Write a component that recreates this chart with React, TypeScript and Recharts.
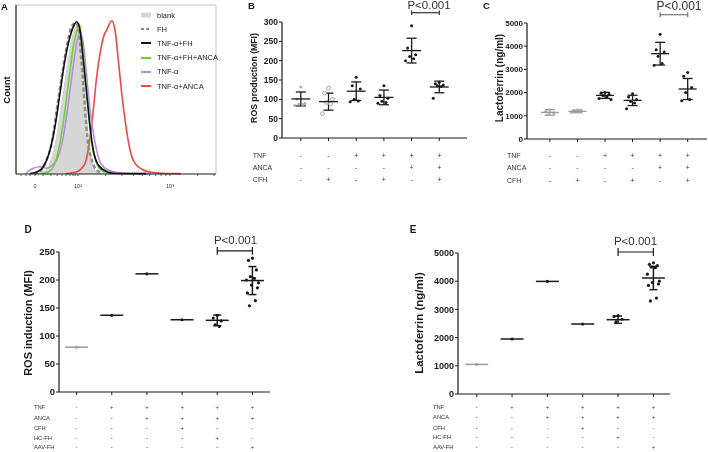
import React from 'react'
import { ComposedChart, Line, Area, XAxis, YAxis, Scatter, ErrorBar, ReferenceLine } from 'recharts'

const FONT = '"Liberation Sans", Arial, Helvetica, sans-serif'
const INK = '#1a1a1a'
const GRAY = '#9a9a9a'

// ---------- panel A: histogram curves, [channel, % of max count]
const blankCurve = [[20, 0.3], [28, 1.5], [34, 6.5], [40.7, 22], [47.3, 47.8], [52.3, 67.5], [57.3, 83.2], [62.3, 88], [65.7, 77.3], [69, 47.8], [72.3, 22], [75.7, 8.3], [80.7, 1.4], [88, 0.3]]
const fhCurve = [[18, 0.3], [24, 1.4], [27.3, 4.3], [31, 9], [35.7, 18.2], [40.7, 37.9], [45.7, 57.6], [50.7, 75.3], [55.7, 87.2], [60, 89.5], [63.3, 84], [64.7, 71.4], [66.7, 57.6], [69, 37.9], [71.3, 22], [75.7, 8.3], [80.7, 2.4], [86, 0.5]]
const tnfFhCurve = [[14, 0.3], [22, 1.5], [27.3, 4.3], [34, 14.2], [39, 28], [44, 47.8], [49, 67.5], [54, 81.2], [58, 88], [60.7, 90.1], [64, 85.2], [67.3, 67.5], [70.7, 47.8], [74, 28], [77.3, 14.2], [82.3, 5.3], [90.7, 1.4], [100, 0.3], [130, 0.2]]
const tnfFhAncaCurve = [[26, 0.3], [33, 1.5], [37.3, 4.3], [44, 18.2], [49, 37.9], [53.3, 57.6], [57.3, 75.3], [61, 85], [63.3, 88.8], [66.7, 73.4], [69, 57.6], [72.3, 37.9], [75.7, 18.2], [80.7, 6.3], [87.3, 1.4], [95, 0.3]]
const tnfCurve = [[10, 0.5], [17.3, 3.4], [24, 4.3], [30.7, 3.4], [36, 5], [40.7, 8.3], [47.3, 22], [52.3, 41.8], [56.7, 61.5], [60.7, 77.3], [64, 84.2], [67.3, 77.3], [70.7, 57.6], [74, 37.9], [78, 22], [82.3, 10.2], [89, 3.4], [100.7, 0.8], [115, 0.3], [135, 0.2]]
const tnfAncaCurve = [[50, 0.3], [60.7, 1.4], [69, 6.3], [73.3, 18.2], [77.3, 37.9], [80.7, 57.6], [84.7, 73.4], [88, 82], [90.7, 85.2], [95.7, 90.7], [99, 85.2], [102.3, 67.5], [105.7, 47.8], [110, 28], [114, 14.2], [119, 6.3], [127.3, 2.4], [137.3, 0.8], [150, 0.3], [165, 0.2]]

const aNames = ['blank', 'FH', 'TNF-α+FH', 'TNF-α+FH+ANCA', 'TNF-α', 'TNF-α+ANCA']
const aColors = ['#d6d6d6', '#8a8a8a', '#111111', '#6fd12b', '#b98ae6', '#f04848']
const aCurves = [blankCurve, fhCurve, tnfFhCurve, tnfFhAncaCurve, tnfCurve, tnfAncaCurve]
const aDrawOrder = [5, 4, 3, 1, 2]
const aTicks = [5, 10, 14, 19, 27, 35, 41, 46, 50, 54, 57, 59, 62, 89.7, 105.9, 117.4, 126.3, 133.6, 139.7, 145.1, 149.8, 154, 181.7, 197.9]
const aTickLabels: Record<number, string> = { 19: '0', 62: '10²', 154: '10³' }

// ---------- panels B-E
const cats = [1, 2, 3, 4, 5, 6]

const bMeans = [101, 94, 121, 105, 226, 132]
const bSds = [18, 22, 24, 19, 32, 15]
const bPoints = [[132, 101, 89, 88, 86, 84], [129, 116, 100, 92, 88, 63], [157, 135, 127, 100, 96, 94], [135, 110, 103, 95, 92, 90], [290, 233, 215, 211, 205, 200], [144, 140, 137, 135, 133, 103]]

const cMeans = [1147, 1190, 1880, 1664, 3677, 2155]
const cSds = [120, 60, 130, 222, 490, 453]
const cPoints = [[1260, 1190, 1120, 1050], [1250, 1230, 1210, 1190, 1170, 1150], [2000, 1970, 1930, 1880, 1830, 1750, 1700], [1950, 1810, 1700, 1620, 1550, 1300], [4520, 3850, 3750, 3570, 3250, 3180], [2870, 2700, 2220, 2000, 1700, 1650]]

const dMeans = [80, 137, 211, 129, 128, 199]
const dSds = [0, 0, 0, 0, 9.5, 25]
const dPoints = [[80], [137], [211], [129], [137, 132, 127, 120, 117], [239, 235, 218, 206, 203, 200, 195, 191, 186, 177, 163, 154]]

const eMeans = [1050, 1950, 3993, 2482, 2635, 4113]
const eSds = [0, 0, 0, 0, 130, 413]
const ePoints = [[1050], [1950], [3993], [2482], [2780, 2750, 2650, 2560], [4650, 4600, 4550, 4500, 4480, 4250, 4000, 3950, 3900, 3850, 3400, 3300]]

const topRowNames = ['TNF', 'ANCA', 'CFH']
const topRows = [
  ['-', '-', '+', '+', '+', '+'],
  ['-', '-', '-', '-', '+', '+'],
  ['-', '+', '-', '+', '-', '+'],
]
const bottomRowNames = ['TNF', 'ANCA', 'CFH', 'HC-FH', 'AAV-FH']
const bottomRows = [
  ['-', '+', '+', '+', '+', '+'],
  ['-', '-', '+', '+', '+', '+'],
  ['-', '-', '-', '+', '-', '-'],
  ['-', '-', '-', '-', '+', '-'],
  ['-', '-', '-', '-', '-', '+'],
]

const JITTER = [0, -4, 4, -2, 2, -6, 6, -1, 5, -5, 3, -3]

function Txt({ x, y, size, bold, rotate, color = INK, children }: any) {
  return (
    <div
      style={{
        position: 'absolute', left: x, top: y, fontSize: size, lineHeight: 1, whiteSpace: 'nowrap',
        fontWeight: bold ? 'bold' : 'normal', color, fontFamily: FONT, filter: 'grayscale(1)',
        transform: `translate(-50%, -50%)${rotate ? ` rotate(${rotate}deg)` : ''}`,
      }}
    >
      {children}
    </div>
  )
}

function SignRows(props: any) {
  const { x, y, payload, rows, rowNames, rowDy, font, labelDx } = props
  const i = Math.round(payload.value) - 1
  const base = y - 3
  return (
    <g fontFamily={FONT} fontSize={font}>
      {rows.map((r: string[], k: number) => (
        <text key={k} x={x} y={base + rowDy[k]} fill="#333" textAnchor="middle" dominantBaseline="central">{r[i]}</text>
      ))}
      {i === 0 && rowNames.map((n: string, k: number) => (
        <text key={'n' + k} x={x + labelDx} y={base + rowDy[k]} fill="#333" dominantBaseline="central">{n}</text>
      ))}
    </g>
  )
}

function DotPanel(p: any) {
  const pts = p.points.flatMap((vals: number[], g: number) =>
    vals.map((v, i) => ({ x: g + 1, y: v, g, i, n: vals.length })))
  const { y: by, cap, color: bc } = p.bracket
  return (
    <div style={{ position: 'absolute', left: p.left, top: p.top, filter: 'grayscale(1)' }}>
      <ComposedChart width={p.width} height={p.height} margin={p.margin}>
        <XAxis
          type="number" dataKey="x" domain={p.xDomain} ticks={cats} allowDataOverflow
          height={p.xAxisH} tickSize={3} tickMargin={0}
          axisLine={{ stroke: INK, strokeWidth: 1.2 }} tickLine={{ stroke: INK }}
          tick={(tp: any) => <SignRows {...tp} rows={p.rows} rowNames={p.rowNames} rowDy={p.rowDy} font={p.rowFont} labelDx={p.labelDx} />}
        />
        <YAxis
          type="number" dataKey="y" domain={p.yDomain} ticks={p.yTicks} width={p.yWidth} allowDataOverflow
          tickSize={3} tickMargin={1}
          axisLine={{ stroke: INK, strokeWidth: 1.2 }} tickLine={{ stroke: INK }}
          tick={{ fontSize: p.tickFont, fontWeight: 'bold', fill: INK, fontFamily: FONT }}
        />
        <Scatter
          data={pts} isAnimationActive={false}
          shape={(sp: any) => {
            const d = sp.payload
            const dx = d.n === 1 ? 0 : JITTER[d.i % JITTER.length]
            const gray = p.grayGroups.includes(d.g)
            const open = (p.openGroups || []).includes(d.g)
            return open
              ? <circle cx={sp.cx + dx} cy={sp.cy} r={p.dotR + 0.4} fill="#fff" stroke={GRAY} strokeWidth={0.9} />
              : <circle cx={sp.cx + dx} cy={sp.cy} r={p.dotR} fill={gray ? '#aaa' : INK} />
          }}
        />
        {p.means.map((m: number, g: number) => {
          const col = p.grayLines.includes(g) ? GRAY : INK
          return (
            <Scatter
              key={'m' + g} data={[{ x: g + 1, y: m, sd: p.sds[g] }]} isAnimationActive={false}
              shape={(sp: any) => (
                <line x1={sp.cx - p.meanHalf} x2={sp.cx + p.meanHalf} y1={sp.cy} y2={sp.cy} stroke={col} strokeWidth={p.lineW} />
              )}
            >
              {p.sds[g] > 0 && (
                <ErrorBar dataKey="sd" direction="y" width={p.capHalf} stroke={col} strokeWidth={p.lineW} isAnimationActive={false} />
              )}
            </Scatter>
          )
        })}
        <ReferenceLine segment={[{ x: 5, y: by }, { x: 6, y: by }]} stroke={bc} strokeWidth={1.2} ifOverflow="visible" />
        <ReferenceLine segment={[{ x: 5, y: by - cap }, { x: 5, y: by + cap }]} stroke={bc} strokeWidth={1.2} ifOverflow="visible" />
        <ReferenceLine segment={[{ x: 6, y: by - cap }, { x: 6, y: by + cap }]} stroke={bc} strokeWidth={1.2} ifOverflow="visible" />
      </ComposedChart>
    </div>
  )
}

function HistPanel() {
  const toPts = (c: number[][]) => c.map(([x, y]) => ({ x, y }))
  return (
    <div style={{ position: 'absolute', left: 0, top: 0 }}>
      <ComposedChart width={220} height={195} margin={{ top: 5, right: 4, left: 0, bottom: 0 }}>
        <XAxis
          type="number" dataKey="x" domain={[0, 200]} ticks={aTicks} allowDataOverflow height={21}
          tickSize={2} tickMargin={8} axisLine={{ stroke: INK, strokeWidth: 1.2 }} tickLine={{ stroke: '#555' }}
          tickFormatter={(v: number) => aTickLabels[v] || ''}
          tick={{ fontSize: 5.5, fill: '#333', fontFamily: FONT }} interval={0}
        />
        <YAxis type="number" domain={[0, 100]} width={16} tick={false} tickLine={false} axisLine={{ stroke: INK, strokeWidth: 1.2 }} />
        <ReferenceLine y={100} stroke="#c4c4c4" />
        <ReferenceLine x={200} stroke="#c4c4c4" />
        <Area
          data={toPts(aCurves[0])} dataKey="y" type="monotone" fill={aColors[0]} fillOpacity={1}
          stroke="#cdcdcd" strokeWidth={1} isAnimationActive={false}
        />
        {aDrawOrder.map((k) => (
          <Line
            key={aNames[k]} data={toPts(aCurves[k])} dataKey="y" type="monotone" dot={false}
            stroke={aColors[k]} strokeWidth={k === 1 ? 2.4 : 1.6} strokeDasharray={k === 1 ? '4 2.5' : undefined}
            isAnimationActive={false}
          />
        ))}
      </ComposedChart>
      <div style={{ position: 'absolute', left: 141, top: 8, fontFamily: FONT, fontSize: 7.5, color: '#222' }}>
        {aNames.map((n, k) => (
          <div key={n} style={{ height: 14.2, display: 'flex', alignItems: 'center' }}>
            <svg width={15} height={8} style={{ marginRight: 1 }}>
              {k === 0 && <rect x={0} y={1.5} width={10} height={5} fill={aColors[0]} />}
              {k === 1 && <line x1={0} x2={10} y1={4} y2={4} stroke={aColors[1]} strokeWidth={2} strokeDasharray="3 2" />}
              {k > 1 && <line x1={0} x2={10} y1={4} y2={4} stroke={aColors[k]} strokeWidth={2} />}
            </svg>
            <span style={{ filter: 'grayscale(1)' }}>{n}</span>
          </div>
        ))}
      </div>
    </div>
  )
}

export default function App() {
  return (
    <div style={{ position: 'absolute', left: 0, top: 0, width: 708, height: 452, overflow: 'hidden', fontFamily: FONT, willChange: 'transform' }}>
      <HistPanel />
      <DotPanel
        left={236} top={0} width={235} height={190} margin={{ top: 22, right: 4, left: 0, bottom: 2 }}
        yWidth={46} xAxisH={50} xDomain={[0.32, 7]} yDomain={[0, 300]} yTicks={[0, 50, 100, 150, 200, 250, 300]}
        means={bMeans} sds={bSds} points={bPoints} grayGroups={[0, 1]} openGroups={[1]} grayLines={[]}
        rows={topRows} rowNames={topRowNames} rowDy={[17, 29, 41]} rowFont={7} labelDx={-48}
        tickFont={8.5} meanHalf={9.5} capHalf={5} dotR={1.5} lineW={1.3}
        bracket={{ y: 324, cap: 6, color: '#333' }}
      />
      <DotPanel
        left={477} top={0} width={231} height={191} margin={{ top: 23, right: 1, left: 0, bottom: 2 }}
        yWidth={50} xAxisH={50} xDomain={[0.17, 6.7]} yDomain={[0, 5000]} yTicks={[0, 1000, 2000, 3000, 4000, 5000]}
        means={cMeans} sds={cSds} points={cPoints} grayGroups={[0, 1]} grayLines={[0, 1]}
        rows={topRows} rowNames={topRowNames} rowDy={[16, 28.5, 41]} rowFont={7} labelDx={-43}
        tickFont={8} meanHalf={9} capHalf={5} dotR={1.5} lineW={1.3}
        bracket={{ y: 5358, cap: 108, color: '#777' }}
      />
      <DotPanel
        left={14} top={240} width={258} height={212} margin={{ top: 12, right: 2, left: 0, bottom: 0 }}
        yWidth={45} xAxisH={60} xDomain={[0.5, 6.5]} yDomain={[0, 250]} yTicks={[0, 50, 100, 150, 200, 250]}
        means={dMeans} sds={dSds} points={dPoints} grayGroups={[0]} grayLines={[0]}
        rows={bottomRows} rowNames={bottomRowNames} rowDy={[15, 25.7, 35.7, 45.7, 54.7]} rowFont={5.8} labelDx={-42.7}
        tickFont={9.5} meanHalf={11.5} capHalf={4} dotR={1.6} lineW={1.5}
        bracket={{ y: 252, cap: 7, color: INK }}
      />
      <DotPanel
        left={408} top={240} width={264} height={452 - 240} margin={{ top: 13, right: 2, left: 0, bottom: 0 }}
        yWidth={50} xAxisH={58} xDomain={[0.47, 6.47]} yDomain={[0, 5000]} yTicks={[0, 1000, 2000, 3000, 4000, 5000]}
        means={eMeans} sds={eSds} points={ePoints} grayGroups={[0]} grayLines={[0]}
        rows={bottomRows} rowNames={bottomRowNames} rowDy={[13, 23.4, 34, 43.4, 53]} rowFont={5.8} labelDx={-43.7}
        tickFont={9} meanHalf={11.5} capHalf={4} dotR={1.6} lineW={1.5}
        bracket={{ y: 5035, cap: 142, color: INK }}
      />

      <Txt x={4.5} y={6.5} size={9.5} bold>A</Txt>
      <Txt x={7} y={90} size={9.5} bold rotate={-90}>Count</Txt>
      <Txt x={251.5} y={6} size={9.5} bold>B</Txt>
      <Txt x={486.5} y={6} size={9.5} bold>C</Txt>
      <Txt x={254} y={78} size={8.7} bold rotate={-90}>ROS production (MFI)</Txt>
      <Txt x={500} y={78} size={10} bold rotate={-90}>Lactoferrin (ng/ml)</Txt>
      <Txt x={429} y={6} size={11.5} color="#333">P&lt;0.001</Txt>
      <Txt x={679} y={6} size={12} color="#333">P&lt;0.001</Txt>
      <Txt x={28} y={229.5} size={10} bold>D</Txt>
      <Txt x={413} y={229.5} size={10} bold>E</Txt>
      <Txt x={28} y={323} size={11} bold rotate={-90}>ROS induction (MFI)</Txt>
      <Txt x={420} y={323} size={11.5} bold rotate={-90}>Lactoferrin (ng/ml)</Txt>
      <Txt x={235.5} y={241} size={11.5} color="#333">P&lt;0.001</Txt>
      <Txt x={635.5} y={241.5} size={11.5} color="#333">P&lt;0.001</Txt>
    </div>
  )
}
